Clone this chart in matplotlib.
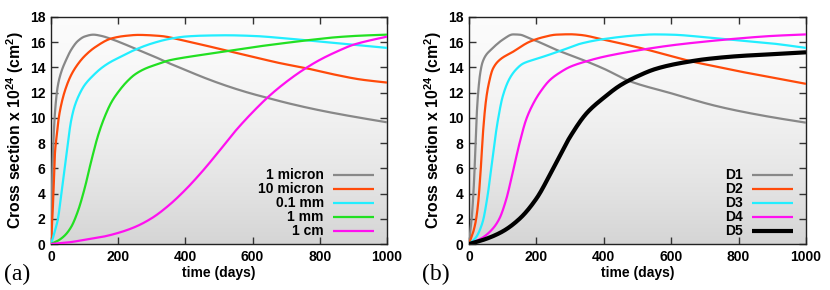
import numpy as np
import matplotlib
matplotlib.use("Agg")
import matplotlib.pyplot as plt

plt.rcParams['font.family'] = ['Liberation Sans', 'DejaVu Sans']
plt.rcParams['font.weight'] = 'bold'
plt.rcParams['mathtext.fontset'] = 'custom'
plt.rcParams['mathtext.bf'] = 'Liberation Sans:bold'
plt.rcParams['mathtext.rm'] = 'Liberation Sans:bold'

# ---------------- Panel (a): grain sizes ----------------
a_labels = ["1 micron", "10 micron", "0.1 mm", "1 mm", "1 cm"]
a_colors = ["#888888", "#ff4a0a", "#22eeff", "#22e022", "#ff10f0"]

a1_t = [0, 3, 7, 12, 20, 30, 45, 60, 80, 100, 126, 150, 180, 200, 250, 300, 350, 400, 450, 500, 550, 600, 650, 700, 800, 900, 1000]
a1_y = [0, 4.5, 8.0, 10.5, 12.5, 13.6, 14.6, 15.4, 16.1, 16.45, 16.6, 16.5, 16.25, 16.05, 15.5, 14.95, 14.35, 13.8, 13.25, 12.75, 12.3, 11.9, 11.55, 11.2, 10.6, 10.1, 9.65]

a2_t = [0, 4, 8, 12, 18, 22, 30, 42, 60, 81, 100, 131, 180, 220, 260, 324, 400, 450, 523, 600, 680, 761, 850, 920, 1000]
a2_y = [0, 2.0, 4.5, 7.3, 8.8, 9.8, 11.0, 12.2, 13.4, 14.3, 14.9, 15.6, 16.3, 16.5, 16.58, 16.5, 16.1, 15.8, 15.33, 14.85, 14.35, 13.93, 13.4, 13.05, 12.8]

a3_t = [0, 5, 10, 20, 30, 40, 50, 60, 70, 85, 100, 125, 150, 175, 200, 250, 300, 350, 400, 450, 523, 600, 700, 800, 900, 1000]
a3_y = [0, 0.4, 0.9, 1.9, 3.8, 5.9, 8.0, 9.8, 10.9, 11.9, 12.6, 13.35, 13.95, 14.4, 14.75, 15.4, 15.9, 16.25, 16.45, 16.52, 16.55, 16.5, 16.3, 16.05, 15.8, 15.55]

a4_t = [0, 20, 40, 60, 80, 100, 120, 140, 160, 180, 200, 225, 250, 280, 310, 350, 400, 450, 533, 600, 700, 771, 850, 920, 1000]
a4_y = [0, 0.25, 0.65, 1.35, 2.6, 4.4, 6.6, 8.6, 10.1, 11.25, 12.05, 12.85, 13.45, 13.9, 14.2, 14.55, 14.8, 15.0, 15.33, 15.6, 15.95, 16.18, 16.4, 16.52, 16.6]

a5_t = [0, 50, 100, 150, 200, 250, 300, 350, 400, 450, 500, 550, 600, 650, 700, 750, 800, 850, 900, 950, 1000]
a5_y = [0, 0.12, 0.33, 0.55, 0.88, 1.35, 2.05, 3.05, 4.3, 5.75, 7.35, 9.0, 10.45, 11.75, 12.85, 13.8, 14.6, 15.25, 15.8, 16.15, 16.44]

# ---------------- Panel (b): D1..D5 ----------------
b_labels = ["D1", "D2", "D3", "D4", "D5"]
b_colors = ["#888888", "#ff4a0a", "#22eeff", "#ff10f0", "#000000"]

b1_t = [0, 8, 15, 22, 27, 33, 40, 51, 65, 81, 100, 131, 150, 180, 200, 259, 333, 400, 478, 600, 725, 800, 900, 1000]
b1_y = [0, 2.0, 5.0, 9.8, 11.95, 13.5, 14.4, 15.0, 15.4, 15.8, 16.2, 16.62, 16.6, 16.3, 16.1, 15.4, 14.65, 13.9, 12.9, 11.95, 11.0, 10.55, 10.05, 9.62]

b2_t = [0, 12, 20, 27, 35, 42, 50, 57, 71, 91, 131, 180, 220, 259, 300, 330, 400, 500, 530, 600, 656, 700, 800, 900, 1000]
b2_y = [0, 0.9, 1.8, 3.2, 6.0, 9.0, 11.3, 12.5, 13.9, 14.6, 15.25, 16.04, 16.4, 16.6, 16.63, 16.58, 16.2, 15.6, 15.4, 14.9, 14.5, 14.25, 13.7, 13.2, 12.7]

b3_t = [0, 20, 40, 55, 65, 75, 85, 100, 120, 140, 160, 190, 220, 280, 333, 400, 500, 550, 600, 700, 800, 900, 1000]
b3_y = [0, 0.5, 1.7, 3.8, 5.8, 7.9, 9.7, 11.7, 13.1, 13.85, 14.3, 14.6, 14.85, 15.4, 15.9, 16.25, 16.55, 16.62, 16.6, 16.4, 16.15, 15.9, 15.55]

b4_t = [0, 40, 70, 90, 110, 130, 150, 170, 190, 210, 240, 270, 300, 350, 400, 500, 600, 700, 800, 900, 1000]
b4_y = [0, 0.5, 1.2, 2.0, 3.5, 5.7, 8.0, 9.9, 11.1, 12.0, 13.0, 13.6, 14.05, 14.5, 14.85, 15.35, 15.75, 16.05, 16.3, 16.5, 16.62]

b5_t = [0, 50, 100, 150, 200, 250, 300, 350, 400, 450, 500, 550, 600, 650, 700, 800, 900, 1000]
b5_y = [0, 0.4, 1.0, 2.0, 3.6, 6.0, 8.5, 10.4, 11.6, 12.6, 13.3, 13.85, 14.2, 14.45, 14.65, 14.9, 15.05, 15.2]

x_ticks = [0, 200, 400, 600, 800, 1000]
y_ticks = [0, 2, 4, 6, 8, 10, 12, 14, 16, 18]
x_label = "time (days)"
y_label = r"Cross section x 10$^{\mathbf{24}}$ (cm$^{\mathbf{2}}$)"
panel_tags = ["(a)", "(b)"]

a_series = [(a1_t, a1_y), (a2_t, a2_y), (a3_t, a3_y), (a4_t, a4_y), (a5_t, a5_y)]
b_series = [(b1_t, b1_y), (b2_t, b2_y), (b3_t, b3_y), (b4_t, b4_y), (b5_t, b5_y)]
b_widths = [1.6, 1.6, 1.6, 1.6, 3.0]


def smooth(t, y):
    t = np.asarray(t, float)
    y = np.asarray(y, float)
    # monotone cubic (PCHIP) interpolation for a smooth drawn curve
    n = len(t)
    h = np.diff(t)
    d = np.diff(y) / h
    m = np.zeros(n)
    for i in range(1, n - 1):
        if d[i - 1] * d[i] > 0:
            w1 = 2 * h[i] + h[i - 1]
            w2 = h[i] + 2 * h[i - 1]
            m[i] = (w1 + w2) / (w1 / d[i - 1] + w2 / d[i])
    m[0] = d[0]
    m[-1] = d[-1]
    xs, ys = [], []
    for i in range(n - 1):
        s = np.linspace(0, 1, 30, endpoint=False)
        h00 = 2 * s**3 - 3 * s**2 + 1
        h10 = s**3 - 2 * s**2 + s
        h01 = -2 * s**3 + 3 * s**2
        h11 = s**3 - s**2
        xs.append(t[i] + s * h[i])
        ys.append(h00 * y[i] + h10 * h[i] * m[i] + h01 * y[i + 1] + h11 * h[i] * m[i + 1])
    xs.append([t[-1]])
    ys.append([y[-1]])
    return np.concatenate(xs), np.concatenate(ys)


W, H = 830, 290
fig = plt.figure(figsize=(W / 100, H / 100), dpi=100)

axes_px = [(51, 387), (469, 806)]
top_px, bot_px = 17, 244

grad = np.linspace(0, 1, 256)[:, None]
grad_vals = 0.985 - 0.15 * grad ** 1.6

for k, (x0, x1) in enumerate(axes_px):
    ax = fig.add_axes([x0 / W, 1 - bot_px / H, (x1 - x0) / W, (bot_px - top_px) / H])
    ax.imshow(np.repeat(grad_vals[:, :, None], 3, axis=2), extent=[0, 1, 0, 1],
              transform=ax.transAxes, aspect='auto', zorder=0, origin='upper')
    if k == 0:
        series, labels, colors, widths = a_series, a_labels, a_colors, [1.6] * 5
    else:
        series, labels, colors, widths = b_series, b_labels, b_colors, b_widths
    for (t, y), lab, c, lw in zip(series, labels, colors, widths):
        xs, ys = smooth(t, y)
        ax.plot(xs, ys, color=c, lw=lw, label=lab, zorder=3, solid_capstyle='butt')
    ax.set_xlim(0, 1000)
    ax.set_ylim(0, 18)
    ax.set_xticks(x_ticks)
    ax.set_yticks(y_ticks)
    ax.tick_params(direction='in', top=True, right=True, length=5, width=1.0,
                   labelsize=10, pad=4, color='#333333')
    for lbl in ax.get_xticklabels() + ax.get_yticklabels():
        lbl.set_fontweight('bold')
    for sp in ax.spines.values():
        sp.set_linewidth(1.0)
        sp.set_color('#222222')
    ax.set_xlabel(x_label, fontsize=10, fontweight='bold', labelpad=2)
    ax.set_ylabel(y_label, fontsize=11.3, fontweight='bold', labelpad=3)
    leg = ax.legend(loc='lower right', markerfirst=False, frameon=False,
                    fontsize=10, handlelength=2.9, handletextpad=0.7,
                    labelspacing=0.0, borderaxespad=0.2,
                    bbox_to_anchor=(0.985, -0.012))
    for txt in leg.get_texts():
        txt.set_fontweight('bold')
    fig.text((x0 - 47) / W, 1 - 274 / H, panel_tags[k], fontsize=17,
             family='Liberation Serif', fontweight='normal', va='center', ha='left')

fig.savefig("out.png", dpi=100)
